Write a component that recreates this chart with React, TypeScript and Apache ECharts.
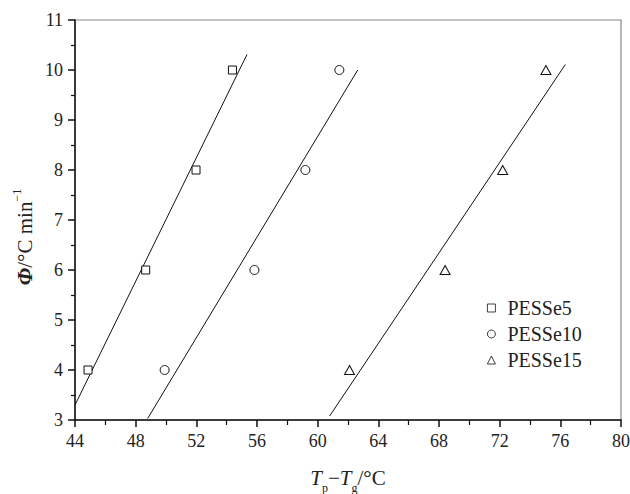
import React, { useEffect, useRef } from "react";
import * as echarts from "echarts";

const seriesNames = ["PESSe5", "PESSe10", "PESSe15"];
const phiValues = [4, 6, 8, 10];
const pesse5X = [44.86, 48.66, 51.98, 54.38];
const pesse10X = [49.91, 55.83, 59.19, 61.43];
const pesse15X = [62.1, 68.4, 72.2, 75.05];
const fit5 = [[44, 3.3], [55.34, 10.31]];
const fit10 = [[48.79, 3.03], [62.64, 10.0]];
const fit15 = [[60.79, 3.08], [76.33, 10.11]];
const symbols = ["rect", "circle", "triangle"];
const symbolSizes = [8, 9, [10, 9]];

const FONT = "Liberation Serif";

export default function App() {
  const ref = useRef<HTMLDivElement>(null);
  useEffect(() => {
    if (!ref.current) return;
    const chart = echarts.init(ref.current, undefined, { renderer: "svg" });
    const xs = [pesse5X, pesse10X, pesse15X];
    const fits = [fit5, fit10, fit15];
    const scatter = seriesNames.map((name, i) => ({
      name,
      type: "scatter",
      symbol: symbols[i],
      symbolSize: symbolSizes[i],
      itemStyle: { color: "#fff", borderColor: "#111", borderWidth: 1, opacity: 1 },
      data: xs[i].map((x, j) => [x, phiValues[j]]),
      z: 3,
    }));
    const lines = fits.map((f, i) => ({
      name: seriesNames[i] + " fit",
      type: "line",
      data: f,
      symbol: "none",
      lineStyle: { color: "#111", width: 1 },
      z: 2,
    }));
    chart.setOption({
      animation: false,
      backgroundColor: "#fff",
      grid: {
        left: 75,
        right: 9,
        top: 20,
        bottom: 74,
        containLabel: false,
        outerBoundsMode: "none",
        show: true,
        borderColor: "#888",
        borderWidth: 1.2,
      },
      legend: {
        orient: "vertical",
        left: 482,
        top: 293,
        itemWidth: 8,
        itemHeight: 8,
        itemGap: 6,
        data: seriesNames,
        itemStyle: { color: "#fff", borderColor: "#111", borderWidth: 0.8 },
        textStyle: { fontFamily: FONT, fontSize: 20, color: "#222", lineHeight: 20, padding: [0, 0, 0, 7] },
      },
      graphic: [
        {
          type: "text",
          x: 23,
          y: 237,
          rotation: Math.PI / 2,
          style: {
            text: "{b|Φ}{n|/°C min}{sup|−1}",
            align: "center",
            verticalAlign: "middle",
            rich: {
              b: { fontFamily: FONT, fontStyle: "italic", fontWeight: "bold", fontSize: 22, fill: "#222", verticalAlign: "bottom", lineHeight: 24 },
              n: { fontFamily: FONT, fontSize: 21, fill: "#222", verticalAlign: "bottom", lineHeight: 24 },
              sup: { fontFamily: FONT, fontSize: 12, fill: "#222", verticalAlign: "top", lineHeight: 24 },
            },
          },
        },
      ],
      xAxis: {
        type: "value",
        min: 44,
        max: 80,
        interval: 4,
        name: "{i|T}{sub|p}{n|−}{i|T}{sub|g}{n|/°C}",
        nameLocation: "middle",
        nameGap: 47,
        nameTextStyle: {
          rich: {
            i: { fontFamily: FONT, fontStyle: "italic", fontSize: 21, color: "#222", verticalAlign: "top", lineHeight: 21 },
            n: { fontFamily: FONT, fontSize: 21, color: "#222", verticalAlign: "top", lineHeight: 21 },
            sub: { fontFamily: FONT, fontSize: 12, color: "#222", verticalAlign: "bottom", lineHeight: 27 },
          },
        },
        axisLine: { lineStyle: { color: "#111", width: 1.5 } },
        axisTick: { length: 7, lineStyle: { color: "#111", width: 1.5 } },
        minorTick: { show: true, splitNumber: 2, length: 5, lineStyle: { color: "#111", width: 1.2 } },
        splitLine: { show: false },
        axisLabel: { fontFamily: FONT, fontSize: 18, color: "#222", margin: 12 },
      },
      yAxis: {
        type: "value",
        min: 3,
        max: 11,
        interval: 1,
        axisLine: { lineStyle: { color: "#111", width: 1.5 } },
        axisTick: { length: 7, lineStyle: { color: "#111", width: 1.5 } },
        minorTick: { show: true, splitNumber: 2, length: 4, lineStyle: { color: "#111", width: 1.2 } },
        splitLine: { show: false },
        axisLabel: { fontFamily: FONT, fontSize: 18, color: "#222", margin: 12 },
      },
      series: [...lines, ...scatter],
    });
    return () => chart.dispose();
  }, []);
  return <div ref={ref} style={{ width: 630, height: 494, position: "absolute", left: 0, top: 0 }} />;
}
